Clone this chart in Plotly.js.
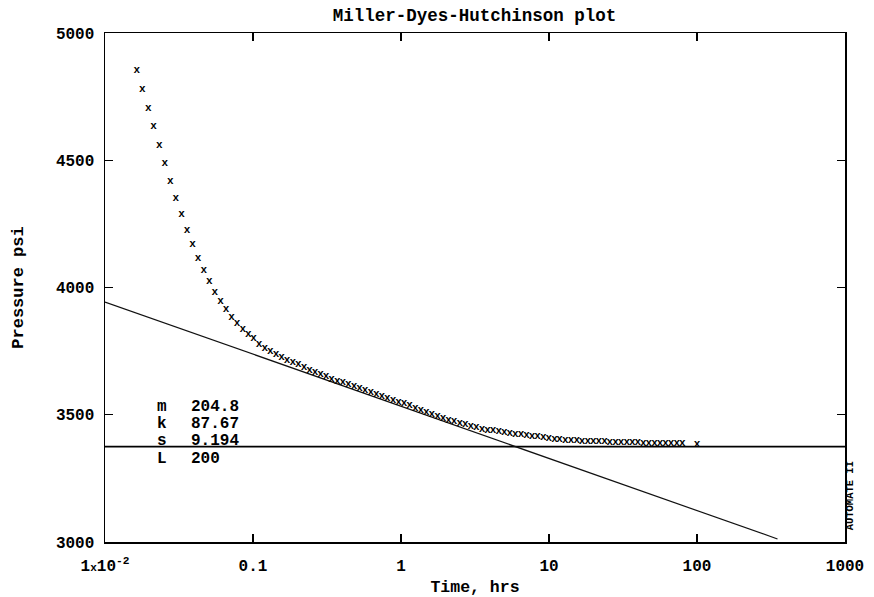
<!DOCTYPE html>
<html>
<head>
<meta charset="utf-8">
<script src="https://cdn.plot.ly/plotly-3.0.1.min.js"></script>
<style>html,body{margin:0;padding:0;background:#fff;}</style>
</head>
<body>
<div id="chart" style="width:874px;height:597px;"></div>
<script>
// Measured data: time (hrs) and pressure (psi)
const timeHrs = [
  0.0164, 0.0179, 0.0196, 0.0213, 0.0233, 0.0254, 0.0276, 0.0301, 0.0329, 0.0358,
  0.0391, 0.0426, 0.0465, 0.0507, 0.0553, 0.0603, 0.0657, 0.0717, 0.0781, 0.0852,
  0.0929, 0.101, 0.110, 0.120, 0.131, 0.143, 0.156, 0.170, 0.186, 0.202,
  0.221, 0.241, 0.263, 0.286, 0.312, 0.340, 0.371, 0.405, 0.441, 0.481,
  0.525, 0.572, 0.624, 0.681, 0.742, 0.809, 0.882, 0.962, 1.049, 1.144,
  1.247, 1.360, 1.483, 1.617, 1.764, 1.923, 2.097, 2.287, 2.494, 2.719,
  2.965, 3.233, 3.526, 3.844, 4.192, 4.571, 4.985, 5.435, 5.927, 6.463,
  7.047, 7.685, 8.380, 9.138, 9.96, 10.9, 11.8, 12.9, 14.1, 15.4,
  16.7, 18.3, 19.9, 21.7, 23.7, 25.8, 28.2, 30.7, 33.5, 36.5,
  39.8, 43.4, 47.3, 51.6, 56.3, 61.4, 66.9, 73.0, 79.6, 100
];
const pressurePsi = [
  4852, 4779, 4704, 4632, 4560, 4488, 4419, 4352, 4287, 4226,
  4171, 4116, 4067, 4024, 3980, 3947, 3914, 3883, 3859, 3836,
  3815, 3800, 3778, 3762, 3751, 3738, 3727, 3715, 3707, 3698,
  3686, 3676, 3666, 3659, 3650, 3641, 3633, 3627, 3621, 3613,
  3605, 3597, 3588, 3580, 3571, 3563, 3558, 3551, 3545, 3538,
  3527, 3519, 3511, 3503, 3495, 3487, 3480, 3474, 3468, 3461,
  3455, 3450, 3445, 3441, 3438, 3434, 3431, 3428, 3425, 3423,
  3419, 3417, 3414, 3411, 3408, 3405, 3403, 3401, 3399, 3398,
  3397, 3396, 3395, 3394, 3394, 3393, 3393, 3392, 3392, 3391,
  3391, 3390, 3390, 3390, 3389, 3389, 3389, 3388, 3388, 3385
];
// Semi-log straight line (MDH fit)
const fitT = [0.01, 350];
const fitP = [3943, 3012];
// Horizontal reference line
const refT = [0.01, 1000];
const refP = [3375, 3375];
// Tick labels
const xTickVals = [0.01, 0.1, 1, 10, 100, 1000];
const xTickText = ['1<span style="font-size:11px">x</span>10<sup>-2</sup>', '0.1', '1', '10', '100', '1000'];
const yTickVals = [3000, 3500, 4000, 4500, 5000];
// Fit results box
const resultLabels = ['m', 'k', 's', 'L'];
const resultValues = ['204.8', '87.67', '9.194', '200'];

const mono = 'Liberation Mono, Courier New, monospace';
const rowY = [0.265, 0.232, 0.198, 0.163];
const annotations = [];
resultLabels.forEach((lab, i) => {
  annotations.push({xref:'paper', yref:'paper', x:0.068, y:rowY[i], xanchor:'left', yanchor:'middle',
    text:lab, showarrow:false, font:{family:mono, size:16, color:'#000', weight:'bold'}});
  annotations.push({xref:'paper', yref:'paper', x:0.114, y:rowY[i], xanchor:'left', yanchor:'middle',
    text:resultValues[i], showarrow:false, font:{family:mono, size:16, color:'#000', weight:'bold'}});
});
annotations.push({xref:'paper', yref:'paper', x:1.007, y:0.09, xanchor:'center', yanchor:'middle',
  text:'AUTOMATE II', textangle:-90, showarrow:false, font:{family:mono, size:10.5, color:'#000', weight:'bold'}});

const traces = [
  {x: refT, y: refP, mode:'lines', line:{color:'#000', width:1.8}, hoverinfo:'skip'},
  {x: fitT, y: fitP, mode:'lines', line:{color:'#111', width:1.2}, hoverinfo:'skip'},
  {x: timeHrs, y: pressurePsi, mode:'text', text: timeHrs.map(() => 'x'),
   textposition:'middle center', textfont:{family:mono, size:11, color:'#000', weight:'bold'}}
];

const layout = {
  width:874, height:597,
  margin:{l:105, r:29, t:33, b:55},
  paper_bgcolor:'#fff', plot_bgcolor:'#fff',
  showlegend:false,
  font:{family:mono, color:'#000', size:16, weight:'bold'},
  title:{text:'Miller-Dyes-Hutchinson plot', x:0.543, xanchor:'center', y:0.985, yanchor:'top',
    font:{family:mono, size:17.5, color:'#000', weight:'bold'}},
  xaxis:{type:'log', range:[-2, 3], tickvals:xTickVals, ticktext:xTickText,
    ticks:'inside', ticklen:8, tickwidth:1.2, tickcolor:'#000', mirror:'ticks',
    showline:true, linecolor:'#000', linewidth:1.5, showgrid:false, zeroline:false,
    ticklabelstandoff:8,
    tickfont:{family:mono, size:16, color:'#000', weight:'bold'},
    title:{text:'Time, hrs', standoff:8, font:{family:mono, size:16.5, color:'#000', weight:'bold'}}},
  yaxis:{range:[3000, 5000], tickvals:yTickVals,
    ticks:'inside', ticklen:8, tickwidth:1.2, tickcolor:'#000', mirror:'ticks',
    showline:true, linecolor:'#000', linewidth:1.5, showgrid:false, zeroline:false,
    ticklabelstandoff:6,
    tickfont:{family:mono, size:16, color:'#000', weight:'bold'},
    title:{text:'Pressure psi', standoff:28, font:{family:mono, size:17, color:'#000', weight:'bold'}}},
  annotations: annotations
};

Plotly.newPlot('chart', traces, layout, {displayModeBar:false, staticPlot:true});
</script>
</body>
</html>
